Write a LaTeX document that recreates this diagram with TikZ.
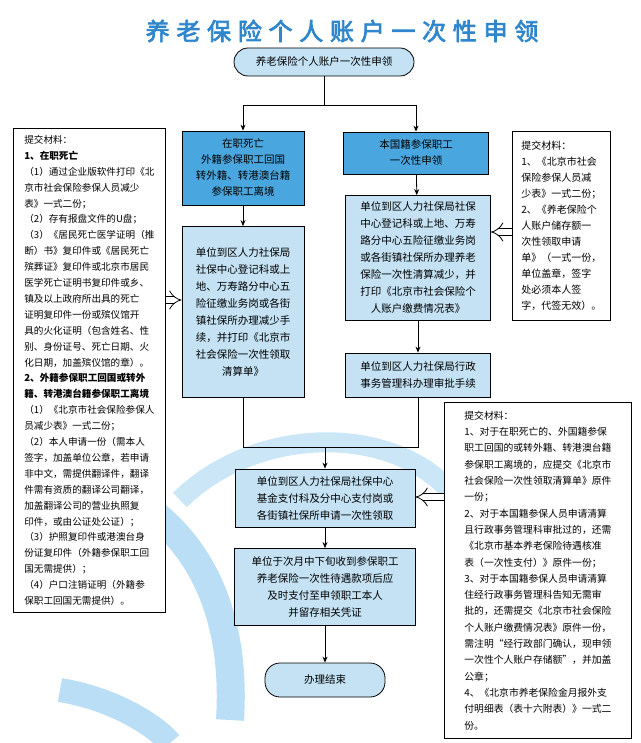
\documentclass[tikz,border=0pt]{standalone}
\usepackage{fontspec}
\setmainfont{Noto Sans CJK SC}
\newfontfamily\titlefont[LetterSpace=28,FakeBold=3]{Noto Sans CJK SC}
\usetikzlibrary{arrows.meta,positioning,calc}
\definecolor{darkblue}{HTML}{4AA6DE}
\definecolor{paleblue}{HTML}{C4E2F4}
\definecolor{titleblue}{HTML}{2F86CC}
\definecolor{swirl}{HTML}{A9D6F2}
\tikzstyle{darkbox} = [draw, thick, rectangle, align=center, fill=darkblue, text=black, inner sep=2pt, font=\fontsize{10.5}{16}\selectfont]
\tikzstyle{lightbox} = [draw, thick, rectangle, align=center, fill=paleblue, text=black, inner sep=2pt, font=\fontsize{10.5}{17}\selectfont]
\tikzstyle{notebox} = [draw, thick, rectangle, align=left, fill=white, text=black, anchor=north west, inner sep=5pt, font=\fontsize{9.6}{15.9}\selectfont]
\tikzstyle{term} = [draw, thick, rectangle, rounded corners=14pt, align=center, fill=paleblue, font=\fontsize{10.5}{14}\selectfont]
\tikzstyle{flow} = [draw, thick, -{Stealth[length=6pt,width=5pt]}]
\tikzstyle{hollow} = [draw, double, double distance=6pt, thick, -{Implies[length=6pt]}]

\begin{document}
\begin{tikzpicture}[x=1pt, y=-1pt]
    \useasboundingbox (0,0) rectangle (640,743);
    % background swirls
    \draw [swirl, line width=28pt, opacity=0.8] (40,470) .. controls (150,480) and (240,560) .. (230,720);
    \draw [swirl, line width=20pt, opacity=0.6] (180,500) .. controls (260,420) and (420,420) .. (470,520);
    \draw [swirl, line width=24pt, opacity=0.8] (60,690) .. controls (120,700) and (160,730) .. (170,743);

    \node [text=titleblue, font=\titlefont\fontsize{24}{24}\selectfont] (title) at (342,31) {养老保险个人账户一次性申领};

    \node [term, minimum width=180pt, minimum height=28pt, rounded corners=14pt] (start) at (324,62) {养老保险个人账户一次性申领};

    % left branch
    \node [darkbox, minimum width=122pt, minimum height=74pt] (l1) at (243,168) {在职死亡\\外籍参保职工回国\\转外籍、转港澳台籍\\参保职工离境};
    \node [lightbox, minimum width=122pt, minimum height=171pt] (l2) at (243,312) {单位到区人力社保局\\社保中心登记科或上\\地、万寿路分中心五\\险征缴业务岗或各街\\镇社保所办理减少手\\续，并打印《北京市\\社会保险一次性领取\\清算单》};

    % right branch
    \node [darkbox, minimum width=145pt, minimum height=42pt] (r1) at (416,153) {本国籍参保职工\\一次性申领};
    \node [lightbox, minimum width=145pt, minimum height=125pt] (r2) at (418,258) {单位到区人力社保局社保\\中心登记科或上地、万寿\\路分中心五险征缴业务岗\\或各街镇社保所办理养老\\保险一次性清算减少，并\\打印《北京市社会保险个\\人账户缴费情况表》};
    \node [lightbox, minimum width=145pt, minimum height=44pt] (r3) at (418,375) {单位到区人力社保局行政\\事务管理科办理审批手续};

    % common steps
    \node [lightbox, minimum width=180pt, minimum height=58pt] (pay) at (325,498) {单位到区人力社保局社保中心\\基金支付科及分中心支付岗或\\各街镇社保所申请一次性领取};
    \node [lightbox, minimum width=181pt, minimum height=77pt] (recv) at (325,587) {单位于次月中下旬收到参保职工\\养老保险一次性待遇款项后应\\及时支付至申领职工本人\\并留存相关凭证};
    \node [term, minimum width=120pt, minimum height=34pt, rounded corners=15pt] (done) at (325,680) {办理结束};

    % notes
    \node [notebox, minimum width=152pt, minimum height=484pt] (nleft) at (13,128) {提交材料：\\
\textbf{1、在职死亡}\\
（1）通过企业版软件打印《北\\
京市社会保险参保人员减少\\
表》一式二份；\\
（2）存有报盘文件的U盘；\\
（3）《居民死亡医学证明（推\\
断）书》复印件或《居民死亡\\
殡葬证》复印件或北京市居民\\
医学死亡证明书复印件或乡、\\
镇及以上政府所出具的死亡\\
证明复印件一份或殡仪馆开\\
具的火化证明（包含姓名、性\\
别、身份证号、死亡日期、火\\
化日期，加盖殡仪馆的章）。\\
\textbf{2、外籍参保职工回国或转外}\\
\textbf{籍、转港澳台籍参保职工离境}\\
（1）《北京市社会保险参保人\\
员减少表》一式二份；\\
（2）本人申请一份（需本人\\
签字，加盖单位公章，若申请\\
非中文，需提供翻译件，翻译\\
件需有资质的翻译公司翻译，\\
加盖翻译公司的营业执照复\\
印件，或由公证处公证）；\\
（3）护照复印件或港澳台身\\
份证复印件（外籍参保职工回\\
国无需提供）；\\
（4）户口注销证明（外籍参\\
保职工回国无需提供）。};
    \node [notebox, minimum width=98pt, minimum height=189pt, font=\fontsize{10}{16}\selectfont] (nright) at (512,131) {提交材料：\\
1、《北京市社会\\
保险参保人员减\\
少表》一式二份；\\
2、《养老保险个\\
人账户储存额一\\
次性领取申请\\
单》（一式一份，\\
单位盖章，签字\\
处必须本人签\\
字，代签无效）。};
    \node [notebox, minimum width=187pt, minimum height=336pt, font=\fontsize{9.8}{16.3}\selectfont] (nbottom) at (444,402) {提交材料：\\
1、对于在职死亡的、外国籍参保\\
职工回国的或转外籍、转港澳台籍\\
参保职工离境的，应提交《北京市\\
社会保险一次性领取清算单》原件\\
一份；\\
2、对于本国籍参保人员申请清算\\
且行政事务管理科审批过的，还需\\
《北京市基本养老保险待遇核准\\
表（一次性支付）》原件一份；\\
3、对于本国籍参保人员申请清算\\
住经行政事务管理科告知无需审\\
批的，还需提交《北京市社会保险\\
个人账户缴费情况表》原件一份，\\
需注明“经行政部门确认，现申领\\
一次性个人账户存储额”，并加盖\\
公章；\\
4、《北京市养老保险金月报外支\\
付明细表（表十六附表）》一式二\\
份。};

    % connectors
    \coordinate (split) at (324,105);
    \draw [thick] (start) -- (split);
    \draw [flow] (split) -| (l1.north);
    \draw [flow] (split) -| (r1.north);
    \draw [flow] (l1) -- (l2);
    \draw [flow] (r1) -- (r2);
    \draw [flow] (r2) -- (r3);
    \coordinate (merge) at (325,447);
    \draw [thick] (l2.south) |- (merge);
    \draw [thick] (r3.south) |- (merge);
    \draw [flow] (merge) -- (pay);
    \draw [flow] (pay) -- (recv);
    \draw [flow] (recv) -- (done);

    \draw [hollow] (nleft.east |- 0,300) -- (l2.west |- 0,300);
    \draw [hollow] (nright.west |- 0,232) -- (r2.east |- 0,232);
    \draw [hollow] (nbottom.west |- 0,497) -- (pay.east |- 0,497);
\end{tikzpicture}
\end{document}
